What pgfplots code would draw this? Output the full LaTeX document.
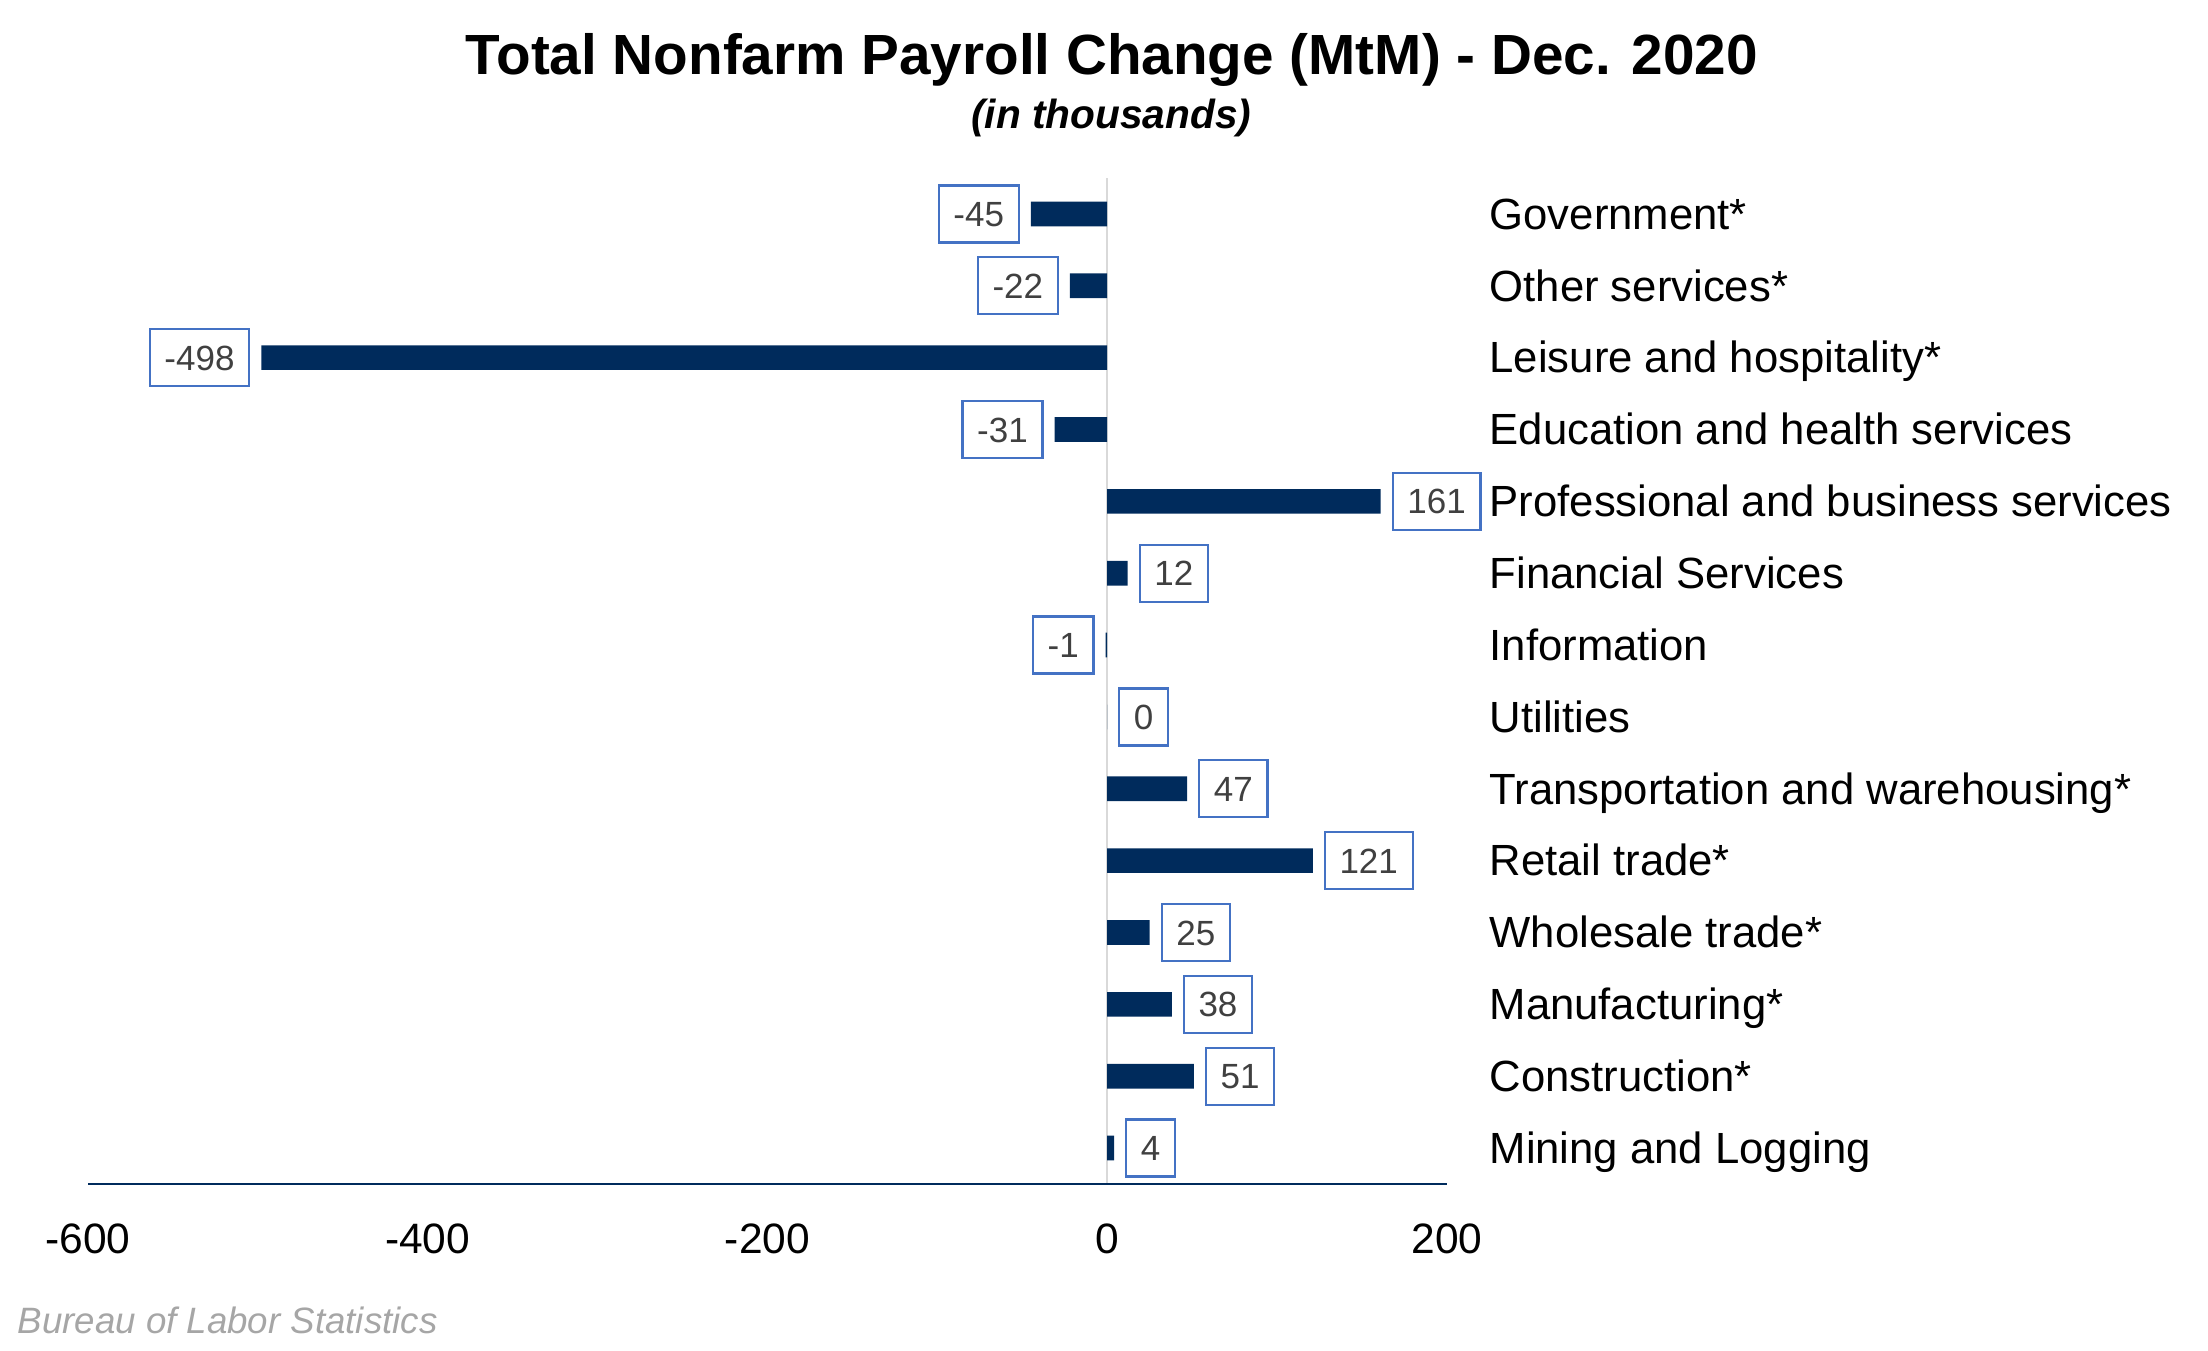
\documentclass[border=0pt]{standalone}
\usepackage{pgfplots}
\pgfplotsset{compat=1.18}
\usepackage{fontspec}
\setmainfont{Liberation Sans}

\definecolor{barnavy}{HTML}{002B5C}
\definecolor{boxblue}{HTML}{4472C4}
\definecolor{labelgray}{HTML}{404040}
\definecolor{zerogray}{HTML}{D9D9D9}
\definecolor{srcgray}{HTML}{A6A6A6}

\begin{document}
\begin{tikzpicture}
\path[use as bounding box] (0,0) rectangle (662.4pt,405pt);

\node[anchor=base, inner sep=0pt, font=\bfseries\fontsize{17}{20}\selectfont]
  at (333.6pt,382.5pt) {Total Nonfarm Payroll Change (MtM) - Dec. 2020};
\node[anchor=base, inner sep=0pt, font=\bfseries\itshape\fontsize{12.2}{14}\selectfont]
  at (333.4pt,366.3pt) {(in thousands)};
\node[anchor=base west, inner sep=0pt, text=srcgray, font=\itshape\fontsize{11}{13}\selectfont]
  at (5.1pt,5.1pt) {Bureau of Labor Statistics};

\begin{axis}[
  at={(26.4pt,49.8pt)}, anchor=south west,
  scale only axis, width=407.7pt, height=301.8pt,
  xmin=-600, xmax=200, ymin=-0.5, ymax=13.5,
  xtick={-600,-400,-200,0,200},
  ytick={0,...,13},
  yticklabels={Mining and Logging, Construction*, Manufacturing*, Wholesale trade*,
    Retail trade*, Transportation and warehousing*, Utilities, Information,
    Financial Services, Professional and business services,
    Education and health services, Leisure and hospitality*, Other services*,
    Government*},
  yticklabel pos=right,
  axis line style={draw=none},
  major tick length=0pt,
  tick style={draw=none},
  xticklabel style={font=\fontsize{12.75}{14}\selectfont, inner sep=0pt,
    anchor=north, yshift=-11.7pt},
  yticklabel style={font=\fontsize{13.1}{15}\selectfont, inner sep=0pt,
    anchor=base west, xshift=12.6pt, yshift=-4.6pt},
  /pgf/number format/assume math mode=true,
  clip=false,
  xbar, bar width=7.4pt, bar shift=0pt,
  nodes near coords,
  every node near coord/.append style={draw=boxblue, line width=0.65pt,
    fill=white, text=labelgray, font=\fontsize{10.5}{12}\selectfont,
    inner xsep=4.4pt, inner ysep=4.8pt, text height=7.5pt, text depth=0pt},
]
\draw[zerogray, line width=0.5pt] (axis cs:0,-0.5) -- (axis cs:0,13.5);

% values that are zero or above
\addplot[fill=barnavy, draw=none,
  every node near coord/.append style={anchor=west, xshift=3.3pt}]
  coordinates {(4,0) (51,1) (38,2) (25,3) (121,4) (47,5) (0,6) (12,8) (161,9)};

% values below zero
\addplot[fill=barnavy, draw=none,
  every node near coord/.append style={anchor=east, xshift=-3.3pt}]
  coordinates {(-1,7) (-31,10) (-498,11) (-22,12) (-45,13)};

\draw[barnavy, line width=0.75pt] (axis cs:-600,-0.5) -- (axis cs:200,-0.5);
\end{axis}
\end{tikzpicture}
\end{document}
